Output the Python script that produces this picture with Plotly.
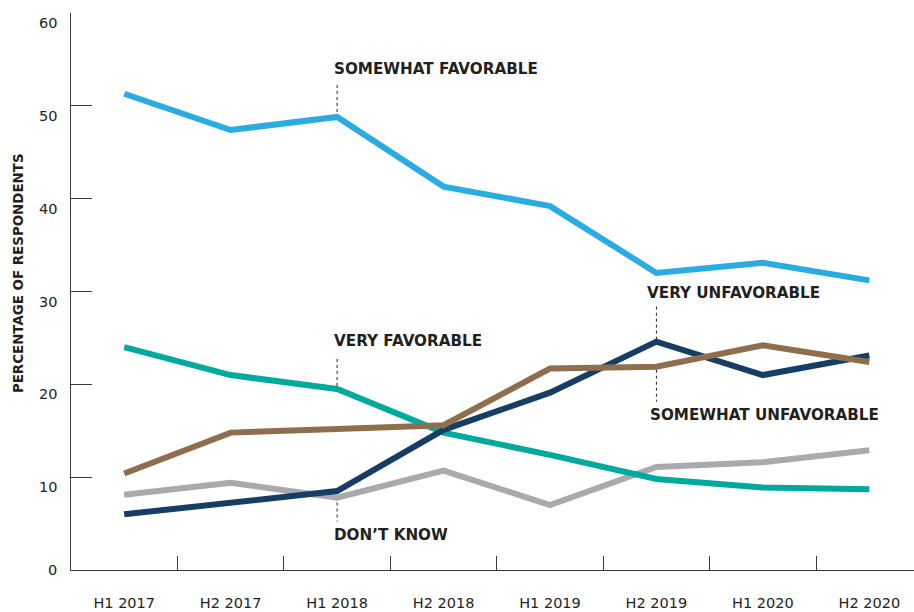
import plotly.graph_objects as go

# half-year survey waves
periods = ["H1 2017", "H2 2017", "H1 2018", "H2 2018", "H1 2019", "H2 2019", "H1 2020", "H2 2020"]

somewhat_favorable = [51.3, 47.4, 48.8, 41.3, 39.2, 32.0, 33.1, 31.2]
very_favorable = [24.0, 21.0, 19.5, 14.8, 12.4, 9.8, 8.9, 8.7]
somewhat_unfavorable = [10.4, 14.8, 15.2, 15.6, 21.7, 21.9, 24.2, 22.4]
very_unfavorable = [6.0, 7.2, 8.5, 15.1, 19.1, 24.6, 21.0, 23.1]
dont_know = [8.1, 9.4, 7.8, 10.7, 7.0, 11.1, 11.6, 12.9]

y_ticks = [0, 10, 20, 30, 40, 50, 60]

TEXT = "#231F20"
AXIS = "#3a3a3a"
FONT = "DejaVu Sans"

series = [
    ("DON\u2019T KNOW", dont_know, "#A9A9AE"),
    ("VERY FAVORABLE", very_favorable, "#00A99D"),
    ("VERY UNFAVORABLE", very_unfavorable, "#163D64"),
    ("SOMEWHAT UNFAVORABLE", somewhat_unfavorable, "#8F6E4E"),
    ("SOMEWHAT FAVORABLE", somewhat_favorable, "#2AABE2"),
]

fig = go.Figure()
for name, vals, col in series:
    fig.add_trace(go.Scatter(x=periods, y=vals, name=name, mode="lines",
                             line=dict(color=col, width=6), showlegend=False))

# direct labels: (series name, period index, label offset px, leader from px, leader to px, xshift)
labels = [
    ("SOMEWHAT FAVORABLE", 2, 48, 5, 34, -5),
    ("VERY FAVORABLE", 2, 48, 3, 33, -5),
    ("DON\u2019T KNOW", 2, -37, -5, -24, -5),
    ("VERY UNFAVORABLE", 5, 49, 2, 35, -11),
    ("SOMEWHAT UNFAVORABLE", 5, -48, -3, -35, -8),
]
lookup = {n: v for n, v, c in series}
for name, i, off, l0, l1, xs in labels:
    yv = lookup[name][i]
    fig.add_annotation(x=periods[i], y=yv, text="<b>" + name + "</b>", showarrow=False,
                       xanchor="left", yanchor="middle", xshift=xs, yshift=off,
                       font=dict(family=FONT, size=15.2, color=TEXT))
    fig.add_shape(type="line", xref="x", yref="y", x0=periods[i], x1=periods[i],
                  ysizemode="pixel", yanchor=yv, y0=l0, y1=l1,
                  line=dict(color=TEXT, width=1, dash="dot"))

# y tick labels sit a little below their tick marks
for v in y_ticks:
    fig.add_annotation(xref="paper", yref="y", x=0, y=v, text=str(v), showarrow=False,
                       xanchor="right", yanchor="middle", xshift=-12,
                       yshift=(-10 if v > 0 else 0),
                       font=dict(family=FONT, size=14.5, color=TEXT))

fig.add_annotation(xref="paper", yref="paper", x=0, y=0.533, xshift=-53,
                   text="<b>PERCENTAGE OF RESPONDENTS</b>", textangle=-90,
                   showarrow=False, xanchor="center", yanchor="middle",
                   font=dict(family=FONT, size=13.4, color=TEXT))

fig.update_xaxes(type="category", range=[-0.5, 7.42], tickson="boundaries",
                 ticks="inside", ticklen=14, tickcolor=AXIS, tickwidth=1,
                 showline=True, linecolor=AXIS, linewidth=1.3, showgrid=False,
                 zeroline=False, ticklabelstandoff=19, automargin=False,
                 tickfont=dict(family=FONT, size=14.5, color=TEXT))
fig.update_yaxes(range=[0, 60], tickvals=y_ticks, ticks="inside", ticklen=21,
                 tickcolor=AXIS, tickwidth=1.3, showline=True, linecolor=AXIS,
                 linewidth=1.3, showgrid=False, zeroline=False,
                 showticklabels=False, automargin=False)

fig.update_layout(width=914, height=612, margin=dict(l=71, r=0, t=13, b=42),
                  plot_bgcolor="white", paper_bgcolor="white",
                  font=dict(family=FONT, color=TEXT))

# drop the default page margin so the figure fills the window exactly
fig.write_html("out.html", config={"displayModeBar": False},
               post_script="document.body.style.margin='0';")
